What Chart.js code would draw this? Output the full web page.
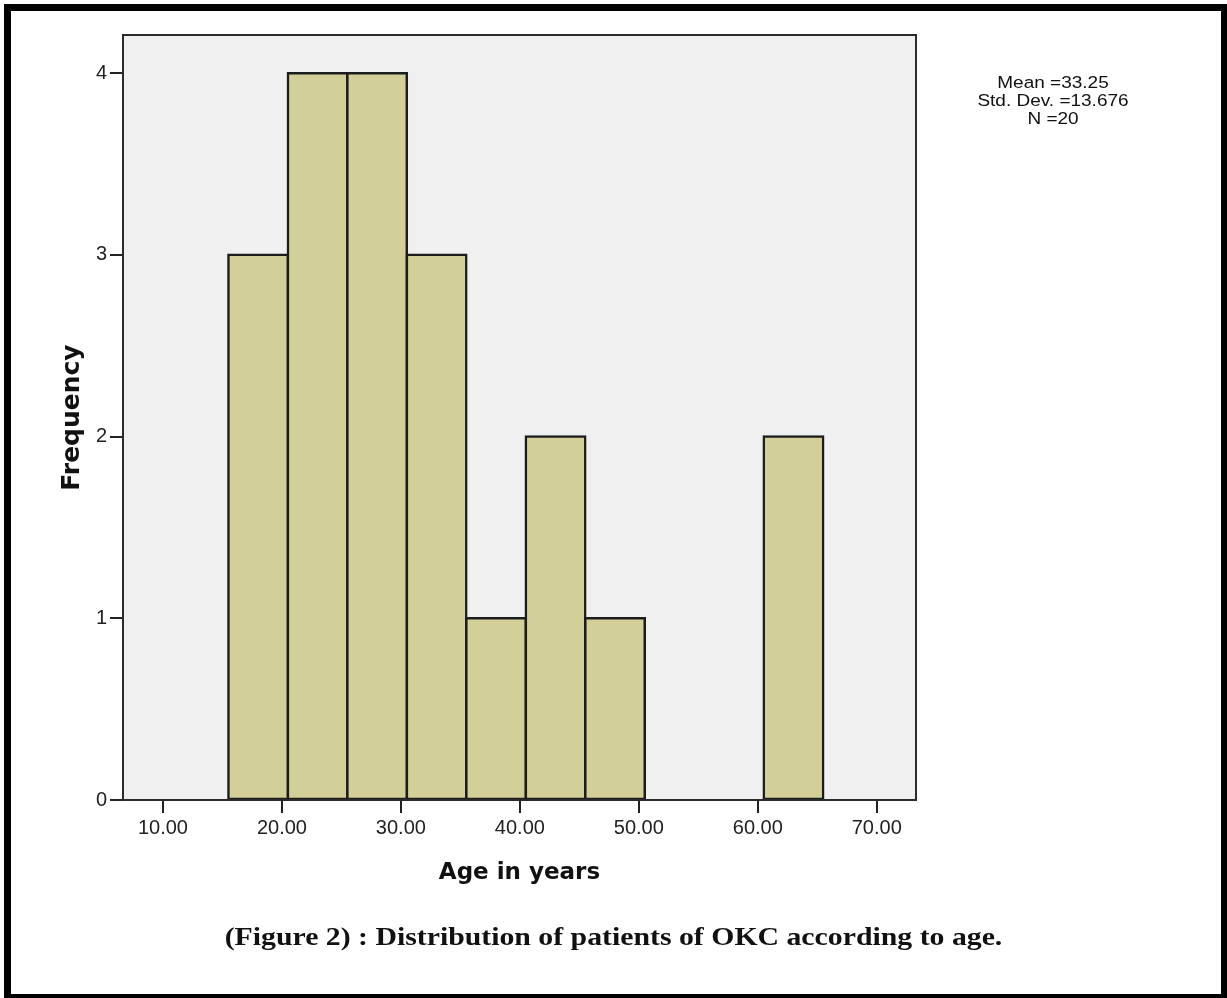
<!DOCTYPE html>
<html>
<head>
<meta charset="utf-8">
<script src="https://cdn.jsdelivr.net/npm/chart.js@4.4.0/dist/chart.umd.min.js"></script>
<style>
  html, body { margin: 0; padding: 0; background: #fff; }
  body { width: 1227px; height: 998px; position: relative; overflow: hidden; }
  #wrap { position: absolute; left: 0; top: 0; width: 1227px; height: 998px; }
  #hist { display: block; }
  /* marco negro exterior */
  .frame {
    position: absolute; left: 4px; top: 4px; right: 0; bottom: 0;
    border-style: solid; border-color: #000;
    border-width: 7px 6px 4px 7px;
    pointer-events: none;
  }
  .stats {
    position: absolute; left: 953px; width: 200px; top: 74px;
    text-align: center; font-family: "Liberation Sans", Arial, sans-serif;
    font-size: 19px; line-height: 18px; color: #111;
  }
  .stats span { display: inline-block; transform: scaleY(0.9); }
  .caption {
    position: absolute; left: 0; width: 1227px; top: 923px;
    text-align: center; white-space: nowrap;
    font-family: "Liberation Serif", "Times New Roman", serif;
    font-weight: bold; font-size: 25px; line-height: 28px; color: #111;
  }
  .caption span { display: inline-block; transform-origin: center; }
</style>
</head>
<body>
<div id="wrap"><canvas id="hist" width="1227" height="998"></canvas></div>
<div class="frame"></div>
<div class="stats"><span>Mean =33.25</span><br><span>Std. Dev. =13.676</span><br><span>N =20</span></div>
<div class="caption"><span id="cap">(Figure 2) : Distribution of patients of OKC according to age.</span></div>

<script>
// Datos del histograma (clases de 5 años)
const binStarts = [15.5, 20.5, 25.5, 30.5, 35.5, 40.5, 45.5, 50.5, 55.5, 60.5];
const binWidth = 5;
const counts = [3, 4, 4, 3, 1, 2, 1, 0, 0, 2];
const xTicks = [10, 20, 30, 40, 50, 60, 70];
const yTicks = [0, 1, 2, 3, 4];

// Fondo gris y marco del área del gráfico
const plotFrame = {
  id: 'plotFrame',
  beforeDraw(chart) {
    const a = chart.chartArea;
    chart.ctx.save();
    chart.ctx.fillStyle = '#f0f0f0';
    chart.ctx.fillRect(a.left, a.top, a.right - a.left, a.bottom - a.top);
    chart.ctx.restore();
  },
  afterDatasetsDraw(chart) {
    const a = chart.chartArea;
    const ctx = chart.ctx;
    ctx.save();
    ctx.strokeStyle = '#2b2b2b';
    ctx.lineWidth = 2;
    ctx.strokeRect(a.left, a.top, a.right - a.left, a.bottom - a.top);
    ctx.restore();
  }
};

const bars = binStarts.map((s, i) => ({ x: s + binWidth / 2, y: counts[i] || null }));

new Chart(document.getElementById('hist'), {
  type: 'bar',
  data: {
    datasets: [{
      data: bars,
      backgroundColor: '#d3cf98',
      borderColor: '#1c1c1c',
      borderWidth: 2.5,
      inflateAmount: 1.25,
      borderSkipped: false,
      barPercentage: 1,
      categoryPercentage: 1
    }]
  },
  options: {
    responsive: false,
    animation: false,
    devicePixelRatio: 1,
    layout: { padding: { left: 0, top: 35, right: 311, bottom: 111 } },
    plugins: { legend: { display: false }, tooltip: { enabled: false } },
    scales: {
      x: {
        type: 'linear',
        min: 6.64,
        max: 73.3,
        offset: false,
        afterBuildTicks: s => { s.ticks = xTicks.map(v => ({ value: v })); },
        afterFit: s => { s.height = 87; },
        border: { display: false },
        grid: { offset: false, drawOnChartArea: false, drawTicks: true, tickLength: 13, tickWidth: 2, tickColor: '#222', lineWidth: 2 },
        ticks: {
          padding: 3,
          color: '#222',
          font: { family: 'Liberation Sans, Arial, sans-serif', size: 20 },
          callback: v => Number(v).toFixed(2)
        },
        title: {
          display: true,
          text: 'Age in years',
          color: '#111',
          padding: 0,
          font: { family: 'DejaVu Sans, sans-serif', size: 23, weight: 'bold' }
        }
      },
      y: {
        min: 0,
        max: 4.21,
        afterBuildTicks: s => { s.ticks = yTicks.map(v => ({ value: v })); },
        afterFit: s => { s.width = 123; },
        border: { display: false },
        grid: { drawOnChartArea: false, drawTicks: true, tickLength: 13, tickWidth: 2, tickColor: '#222', lineWidth: 2 },
        ticks: {
          padding: 3,
          color: '#222',
          font: { family: 'Liberation Sans, Arial, sans-serif', size: 20 }
        },
        title: {
          display: true,
          text: 'Frequency',
          color: '#111',
          padding: { top: 57, bottom: 0 },
          font: { family: 'DejaVu Sans, sans-serif', size: 25, weight: 'bold' }
        }
      }
    }
  },
  plugins: [plotFrame]
});

// Ajuste horizontal de la leyenda del pie de figura
const cap = document.getElementById('cap');
const w = cap.getBoundingClientRect().width;
cap.style.transform = 'scaleX(' + (778 / w).toFixed(3) + ')';
</script>
</body>
</html>
